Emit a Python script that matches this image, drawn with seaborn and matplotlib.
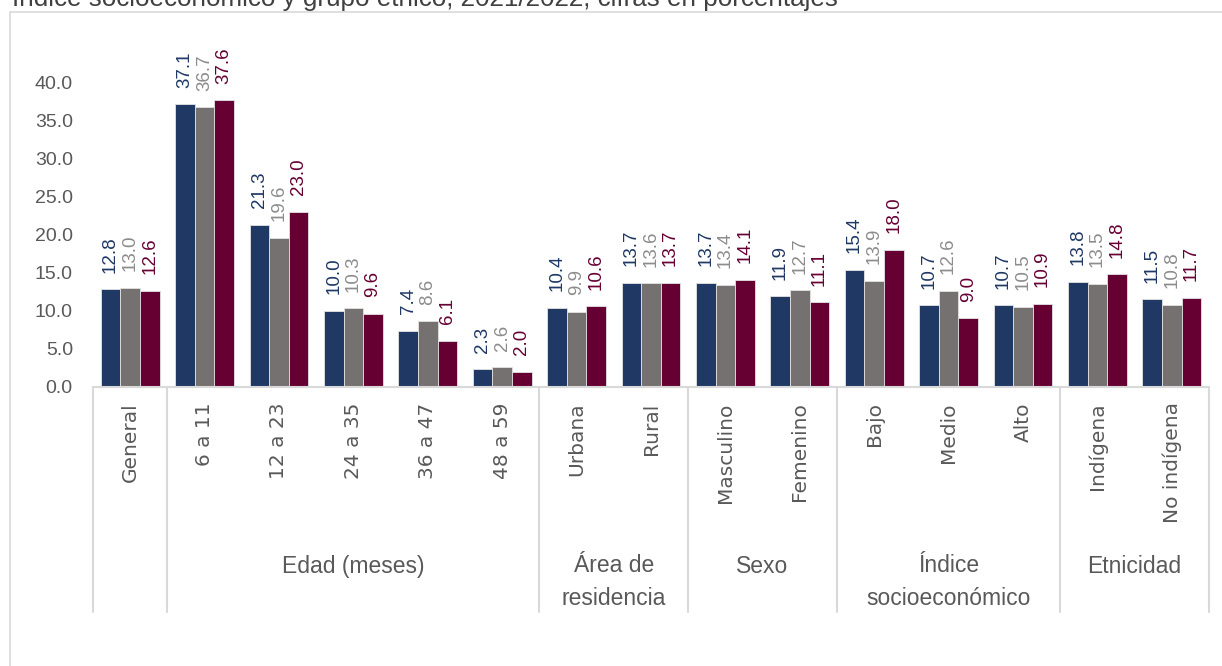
import matplotlib
matplotlib.use("Agg")
import matplotlib.pyplot as plt
import matplotlib.transforms as mtransforms
from matplotlib.patches import Rectangle
from matplotlib.lines import Line2D
import seaborn as sns
import pandas as pd

# ---------------- data ----------------
categories = ["General", "6 a 11", "12 a 23", "24 a 35", "36 a 47", "48 a 59",
              "Urbana", "Rural", "Masculino", "Femenino",
              "Bajo", "Medio", "Alto", "Indígena", "No indígena"]
series_names = ["Serie 1", "Serie 2", "Serie 3"]
serie_1 = [12.8, 37.1, 21.3, 10.0, 7.4, 2.3, 10.4, 13.7, 13.7, 11.9, 15.4, 10.7, 10.7, 13.8, 11.5]
serie_2 = [13.0, 36.7, 19.6, 10.3, 8.6, 2.6, 9.9, 13.6, 13.4, 12.7, 13.9, 12.6, 10.5, 13.5, 10.8]
serie_3 = [12.6, 37.6, 23.0, 9.6, 6.1, 2.0, 10.6, 13.7, 14.1, 11.1, 18.0, 9.0, 10.9, 14.8, 11.7]
group_labels = ["", "Edad (meses)", "Área de\nresidencia", "Sexo",
                "Índice\nsocioeconómico", "Etnicidad"]
group_sizes = [1, 5, 2, 2, 3, 2]
yticks = [0, 5, 10, 15, 20, 25, 30, 35, 40]
title = "Índice socioeconómico y grupo étnico, 2021/2022, cifras en porcentajes"

bar_colors = ["#1F3864", "#767171", "#660033"]
label_colors = ["#1F3864", "#8C8C8C", "#660033"]

df = pd.DataFrame({
    "categoria": categories * 3,
    "serie": [s for s in series_names for _ in categories],
    "valor": serie_1 + serie_2 + serie_3,
})

reg = "Liberation Sans"

sns.set_theme(style="white")
plt.rcParams["font.family"] = ["DejaVu Sans"]

W, H = 1222, 666
fig = plt.figure(figsize=(W / 100, H / 100), dpi=100)

def px2fig(x0, y0, x1, y1):
    return [x0 / W, 1 - y1 / H, (x1 - x0) / W, (y1 - y0) / H]

ax_top, ax_bot = 44, 387
ax_left, ax_right = 93, 1209
ax = fig.add_axes(px2fig(ax_left, ax_top, ax_right, ax_bot))

# outer frame
fig.patches.append(Rectangle((10 / W, -0.1), 1.2, 1.1 - 12 / H, transform=fig.transFigure,
                             fill=False, edgecolor="#D9D9D9", linewidth=1.2))

sns.barplot(data=df, x="categoria", y="valor", hue="serie", order=categories,
            hue_order=series_names, palette=bar_colors, width=0.79,
            edgecolor="#E3E3E3", linewidth=0.6, saturation=1, legend=False, ax=ax,
            errorbar=None)

ax.set_xlim(-0.5, len(categories) - 0.5)
ax.set_ylim(0, 45)
ax.set_yticks(yticks)
ax.set_yticklabels([f"{v:.1f}" for v in yticks], color="#595959", family=reg, size=14)
ax.tick_params(axis="y", length=0, pad=14.5)
ax.tick_params(axis="x", length=0, pad=11)
ax.set_xticks(range(len(categories)))
ax.set_xticklabels(categories, rotation=90, color="#595959", fontsize=14.5,
                   family="DejaVu Sans", va="top", ha="center")
ax.set_xlabel("")
ax.set_ylabel("")
for s in ["top", "right", "left"]:
    ax.spines[s].set_visible(False)
ax.spines["bottom"].set_color("#D9D9D9")
ax.spines["bottom"].set_linewidth(1.5)
ax.grid(False)

for cont, col in zip(ax.containers, label_colors):
    ax.bar_label(cont, labels=[f"{b.get_height():.1f}" for b in cont],
                 rotation=90, padding=12, color=col, family=reg, size=13.5)

# group separators and labels
h_ax = ax_bot - ax_top
trans = mtransforms.blended_transform_factory(ax.transData, ax.transAxes)
line_bottom = -(612 - ax_bot) / h_ax
bounds = [-0.5]
for g in group_sizes:
    bounds.append(bounds[-1] + g)
for b in bounds:
    ax.add_line(Line2D([b, b], [0, line_bottom], transform=trans, color="#D9D9D9",
                       linewidth=1.5, clip_on=False))
for lab, lo, hi in zip(group_labels, bounds[:-1], bounds[1:]):
    if lab:
        n_lines = lab.count("\n") + 1
        base_px = 573 + 32 * (n_lines - 1)
        ax.text((lo + hi) / 2, -(base_px - ax_bot) / h_ax, lab, transform=trans,
                ha="center", va="baseline", family=reg, fontsize=16.5, color="#595959",
                linespacing=1.55, multialignment="center")

# title (cut off at top as in the reference)
fig.text(12 / W, 1 - 6 / H, title, ha="left", va="baseline", family=reg,
         fontsize=18.7, color="#404040")

fig.savefig("out.png", dpi=100)
